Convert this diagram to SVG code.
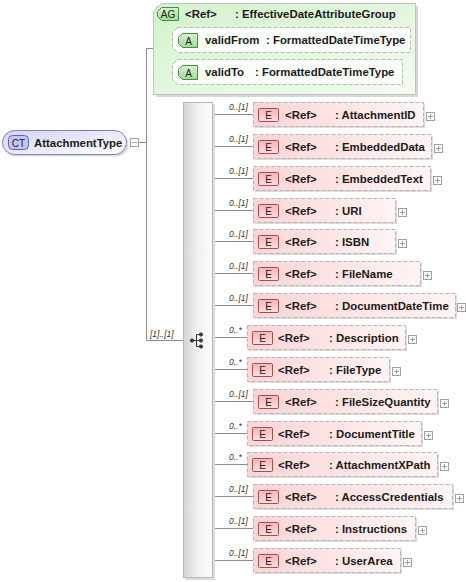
<svg xmlns="http://www.w3.org/2000/svg" width="466" height="582" viewBox="0 0 466 582">
<defs>
<linearGradient id="gPink" x1="0" y1="0" x2="1" y2="0"><stop offset="0" stop-color="#fcd4d4"/><stop offset="1" stop-color="#fff4f4"/></linearGradient>
<linearGradient id="gE" x1="0" y1="0" x2="0" y2="1"><stop offset="0" stop-color="#f6b4b4"/><stop offset="1" stop-color="#fbe0e0"/></linearGradient>
<linearGradient id="gGreen" x1="0" y1="0" x2="1" y2="1"><stop offset="0" stop-color="#d2f2cc"/><stop offset="1" stop-color="#f2fcf0"/></linearGradient>
<linearGradient id="gA" x1="0" y1="0" x2="0" y2="1"><stop offset="0" stop-color="#d8f4d0"/><stop offset="1" stop-color="#9edc90"/></linearGradient>
<linearGradient id="gCT" x1="0" y1="0" x2="1" y2="1"><stop offset="0" stop-color="#d2d2f4"/><stop offset="1" stop-color="#ffffff"/></linearGradient>
<linearGradient id="gSeq" x1="0" y1="0" x2="1" y2="0"><stop offset="0" stop-color="#d4d4d4"/><stop offset="0.5" stop-color="#f2f2f2"/><stop offset="1" stop-color="#fafafa"/></linearGradient>
</defs>
<style>
text{font-family:"Liberation Sans",Arial,sans-serif;fill:#1a1a1a}
.t{font-size:11.4px;font-weight:bold}
.m{font-size:8.5px;font-style:italic;fill:#333}
.ln{stroke:#8c8c8c;stroke-width:1;fill:none}
.box{fill:url(#gPink);stroke:#b4b4b4;stroke-dasharray:4,2}
.sh{fill:#dcdcdc}
.eb{fill:url(#gE);stroke:#a05050}
.pl{fill:#fff;stroke:#a0a0a0}
.pls{stroke:#a0a0a0}
.bt{font-size:10px;font-weight:normal;fill:#222}
</style>

<g id="connectors">
<polyline class="ln" points="138.5,142.5 146.5,142.5"/>
<line class="ln" x1="146.5" y1="48.5" x2="146.5" y2="340.5"/>
<polyline class="ln" points="146.5,48.5 163.5,48.5"/>
<line class="ln" x1="163.5" y1="40.5" x2="163.5" y2="72.5"/>
<polyline class="ln" points="163.5,40.5 172,40.5"/>
<polyline class="ln" points="163.5,72.5 172,72.5"/>
<line class="ln" x1="146.5" y1="340.5" x2="183" y2="340.5"/>
<text class="m" x="150" y="337">[1]..[1]</text>
<g id="rowlines">
<line class="ln" x1="213" y1="114.5" x2="253" y2="114.5"/>
<line class="ln" x1="213" y1="146.5" x2="253" y2="146.5"/>
<line class="ln" x1="213" y1="178.5" x2="253" y2="178.5"/>
<line class="ln" x1="213" y1="210.5" x2="253" y2="210.5"/>
<line class="ln" x1="213" y1="241.5" x2="253" y2="241.5"/>
<line class="ln" x1="213" y1="273.5" x2="253" y2="273.5"/>
<line class="ln" x1="213" y1="305.5" x2="253" y2="305.5"/>
<line class="ln" x1="213" y1="337.5" x2="247" y2="337.5"/>
<line class="ln" x1="213" y1="369.5" x2="247" y2="369.5"/>
<line class="ln" x1="213" y1="401.5" x2="253" y2="401.5"/>
<line class="ln" x1="213" y1="433.5" x2="247" y2="433.5"/>
<line class="ln" x1="213" y1="464.5" x2="247" y2="464.5"/>
<line class="ln" x1="213" y1="496.5" x2="253" y2="496.5"/>
<line class="ln" x1="213" y1="528.5" x2="253" y2="528.5"/>
<line class="ln" x1="213" y1="560.5" x2="253" y2="560.5"/>
</g>
<g id="mult">
<text class="m" x="229" y="110">0..[1]</text>
<text class="m" x="229" y="142">0..[1]</text>
<text class="m" x="229" y="174">0..[1]</text>
<text class="m" x="229" y="206">0..[1]</text>
<text class="m" x="229" y="237">0..[1]</text>
<text class="m" x="229" y="269">0..[1]</text>
<text class="m" x="229" y="301">0..[1]</text>
<text class="m" x="229" y="333">0..*</text>
<text class="m" x="229" y="365">0..*</text>
<text class="m" x="229" y="397">0..[1]</text>
<text class="m" x="229" y="429">0..*</text>
<text class="m" x="229" y="460">0..*</text>
<text class="m" x="229" y="492">0..[1]</text>
<text class="m" x="229" y="524">0..[1]</text>
<text class="m" x="229" y="556">0..[1]</text>
</g>
</g>

<g id="ct">
<rect x="4.5" y="132.5" width="124" height="24" rx="12" class="sh"/>
<rect x="2.5" y="130.5" width="124" height="24" rx="12" fill="url(#gCT)" stroke="#8080c0"/>
<rect x="8.5" y="135.5" width="20" height="14" rx="4" fill="#c4c4f0" stroke="#6464a8"/>
<text class="bt" x="18.5" y="146.5" text-anchor="middle">CT</text>
<text class="t" x="34" y="147">AttachmentType</text>
<rect x="130.5" y="138.5" width="8" height="8" class="pl"/>
<line x1="132" y1="142.5" x2="137" y2="142.5" class="pls"/>
</g>

<g id="ag">
<path d="M156,6 H418 V97 H156 Z" fill="#d8d8d8"/>
<path d="M161.5,3.5 H415.5 V94.5 H153.5 V11.5 Z" fill="url(#gGreen)" stroke="#c0c0c0"/>
<path d="M161.5,7.5 H178.5 V20.5 H161.5 L157.5,16.5 V11.5 Z" fill="url(#gA)" stroke="#508850"/>
<text class="bt" x="168" y="18" text-anchor="middle">AG</text>
<text class="t" x="185" y="18">&lt;Ref&gt;</text>
<text class="t" x="235" y="18">: EffectiveDateAttributeGroup</text>
<g id="validFrom">
<path d="M177.5,27.5 H410.5 V52.5 H177.5 L172.5,47.5 V32.5 Z" fill="#fafff9" stroke="#b8b8b8" stroke-dasharray="4,2"/>
<path d="M182.5,33.5 H197.5 V47.5 H182.5 L178.5,43.5 V37.5 Z" fill="url(#gA)" stroke="#508850"/>
<text class="bt" x="188.5" y="45" text-anchor="middle">A</text>
<text class="t" x="205" y="44">validFrom</text>
<text class="t" x="266" y="44">: FormattedDateTimeType</text>
</g>
<g id="validTo">
<path d="M177.5,59.5 H402.5 V84.5 H177.5 L172.5,79.5 V64.5 Z" fill="#fafff9" stroke="#b8b8b8" stroke-dasharray="4,2"/>
<path d="M182.5,65.5 H197.5 V79.5 H182.5 L178.5,75.5 V69.5 Z" fill="url(#gA)" stroke="#508850"/>
<text class="bt" x="188.5" y="77" text-anchor="middle">A</text>
<text class="t" x="205" y="76">validTo</text>
<text class="t" x="255" y="76">: FormattedDateTimeType</text>
</g>
</g>

<g id="sequence">
<rect x="185" y="104" width="30" height="476" class="sh"/>
<rect x="183.5" y="102.5" width="29" height="475" fill="url(#gSeq)" stroke="#b8b8b8"/>
<g fill="#333" stroke="#333">
<circle cx="192" cy="340.5" r="1.6"/>
<line x1="192" y1="340.5" x2="200" y2="340.5"/>
<line x1="196.5" y1="334.5" x2="196.5" y2="346.5"/>
<line x1="196.5" y1="334.5" x2="200" y2="334.5"/>
<line x1="196.5" y1="346.5" x2="200" y2="346.5"/>
<circle cx="201" cy="334.5" r="1.6"/>
<circle cx="201" cy="340.5" r="1.6"/>
<circle cx="201" cy="346.5" r="1.6"/>
</g>
</g>

<g id="e-AttachmentID">
<rect x="255" y="104" width="170" height="24" class="sh"/>
<rect x="253.5" y="102.5" width="170" height="24" class="box"/>
<rect x="258.5" y="108.5" width="20" height="13" rx="1" class="eb"/>
<text class="bt" x="268.5" y="119" text-anchor="middle">E</text>
<text class="t" x="285" y="119">&lt;Ref&gt;</text>
<text class="t" x="335" y="119">: AttachmentID</text>
<rect x="426.5" y="112.5" width="8" height="8" class="pl"/>
<path d="M428,116.5 H433 M430.5,114 V119" class="pls"/>
</g>
<g id="e-EmbeddedData">
<rect x="255" y="136" width="178" height="24" class="sh"/>
<rect x="253.5" y="134.5" width="178" height="24" class="box"/>
<rect x="258.5" y="140.5" width="20" height="13" rx="1" class="eb"/>
<text class="bt" x="268.5" y="151" text-anchor="middle">E</text>
<text class="t" x="285" y="151">&lt;Ref&gt;</text>
<text class="t" x="335" y="151">: EmbeddedData</text>
<rect x="434.5" y="144.5" width="8" height="8" class="pl"/>
<path d="M436,148.5 H441 M438.5,146 V151" class="pls"/>
</g>
<g id="e-EmbeddedText">
<rect x="255" y="168" width="177" height="24" class="sh"/>
<rect x="253.5" y="166.5" width="177" height="24" class="box"/>
<rect x="258.5" y="172.5" width="20" height="13" rx="1" class="eb"/>
<text class="bt" x="268.5" y="183" text-anchor="middle">E</text>
<text class="t" x="285" y="183">&lt;Ref&gt;</text>
<text class="t" x="335" y="183">: EmbeddedText</text>
<rect x="433.5" y="176.5" width="8" height="8" class="pl"/>
<path d="M435,180.5 H440 M437.5,178 V183" class="pls"/>
</g>
<g id="e-URI">
<rect x="255" y="200" width="142" height="24" class="sh"/>
<rect x="253.5" y="198.5" width="142" height="24" class="box"/>
<rect x="258.5" y="204.5" width="20" height="13" rx="1" class="eb"/>
<text class="bt" x="268.5" y="215" text-anchor="middle">E</text>
<text class="t" x="285" y="215">&lt;Ref&gt;</text>
<text class="t" x="335" y="215">: URI</text>
<rect x="398.5" y="208.5" width="8" height="8" class="pl"/>
<path d="M400,212.5 H405 M402.5,210 V215" class="pls"/>
</g>
<g id="e-ISBN">
<rect x="255" y="231" width="142" height="24" class="sh"/>
<rect x="253.5" y="229.5" width="142" height="24" class="box"/>
<rect x="258.5" y="235.5" width="20" height="13" rx="1" class="eb"/>
<text class="bt" x="268.5" y="246" text-anchor="middle">E</text>
<text class="t" x="285" y="246">&lt;Ref&gt;</text>
<text class="t" x="335" y="246">: ISBN</text>
<rect x="398.5" y="239.5" width="8" height="8" class="pl"/>
<path d="M400,243.5 H405 M402.5,241 V246" class="pls"/>
</g>
<g id="e-FileName">
<rect x="255" y="263" width="167" height="24" class="sh"/>
<rect x="253.5" y="261.5" width="167" height="24" class="box"/>
<rect x="258.5" y="267.5" width="20" height="13" rx="1" class="eb"/>
<text class="bt" x="268.5" y="278" text-anchor="middle">E</text>
<text class="t" x="285" y="278">&lt;Ref&gt;</text>
<text class="t" x="335" y="278">: FileName</text>
<rect x="423.5" y="271.5" width="8" height="8" class="pl"/>
<path d="M425,275.5 H430 M427.5,273 V278" class="pls"/>
</g>
<g id="e-DocumentDateTime">
<rect x="255" y="295" width="202" height="24" class="sh"/>
<rect x="253.5" y="293.5" width="202" height="24" class="box"/>
<rect x="258.5" y="299.5" width="20" height="13" rx="1" class="eb"/>
<text class="bt" x="268.5" y="310" text-anchor="middle">E</text>
<text class="t" x="285" y="310">&lt;Ref&gt;</text>
<text class="t" x="335" y="310">: DocumentDateTime</text>
<rect x="457.5" y="303.5" width="8" height="8" class="pl"/>
<path d="M459,307.5 H464 M461.5,305 V310" class="pls"/>
</g>
<g id="e-Description">
<rect x="249" y="327" width="158" height="24" class="sh"/>
<rect x="247.5" y="325.5" width="158" height="24" class="box"/>
<rect x="252.5" y="331.5" width="20" height="13" rx="1" class="eb"/>
<text class="bt" x="262.5" y="342" text-anchor="middle">E</text>
<text class="t" x="278" y="342">&lt;Ref&gt;</text>
<text class="t" x="329" y="342">: Description</text>
<rect x="408.5" y="335.5" width="8" height="8" class="pl"/>
<path d="M410,339.5 H415 M412.5,337 V342" class="pls"/>
</g>
<g id="e-FileType">
<rect x="249" y="359" width="142" height="24" class="sh"/>
<rect x="247.5" y="357.5" width="142" height="24" class="box"/>
<rect x="252.5" y="363.5" width="20" height="13" rx="1" class="eb"/>
<text class="bt" x="262.5" y="374" text-anchor="middle">E</text>
<text class="t" x="278" y="374">&lt;Ref&gt;</text>
<text class="t" x="329" y="374">: FileType</text>
<rect x="392.5" y="367.5" width="8" height="8" class="pl"/>
<path d="M394,371.5 H399 M396.5,369 V374" class="pls"/>
</g>
<g id="e-FileSizeQuantity">
<rect x="255" y="391" width="184" height="24" class="sh"/>
<rect x="253.5" y="389.5" width="184" height="24" class="box"/>
<rect x="258.5" y="395.5" width="20" height="13" rx="1" class="eb"/>
<text class="bt" x="268.5" y="406" text-anchor="middle">E</text>
<text class="t" x="285" y="406">&lt;Ref&gt;</text>
<text class="t" x="335" y="406">: FileSizeQuantity</text>
<rect x="440.5" y="399.5" width="8" height="8" class="pl"/>
<path d="M442,403.5 H447 M444.5,401 V406" class="pls"/>
</g>
<g id="e-DocumentTitle">
<rect x="249" y="423" width="174" height="24" class="sh"/>
<rect x="247.5" y="421.5" width="174" height="24" class="box"/>
<rect x="252.5" y="427.5" width="20" height="13" rx="1" class="eb"/>
<text class="bt" x="262.5" y="438" text-anchor="middle">E</text>
<text class="t" x="278" y="438">&lt;Ref&gt;</text>
<text class="t" x="329" y="438">: DocumentTitle</text>
<rect x="424.5" y="431.5" width="8" height="8" class="pl"/>
<path d="M426,435.5 H431 M428.5,433 V438" class="pls"/>
</g>
<g id="e-AttachmentXPath">
<rect x="249" y="454" width="190" height="24" class="sh"/>
<rect x="247.5" y="452.5" width="190" height="24" class="box"/>
<rect x="252.5" y="458.5" width="20" height="13" rx="1" class="eb"/>
<text class="bt" x="262.5" y="469" text-anchor="middle">E</text>
<text class="t" x="278" y="469">&lt;Ref&gt;</text>
<text class="t" x="329" y="469">: AttachmentXPath</text>
<rect x="440.5" y="462.5" width="8" height="8" class="pl"/>
<path d="M442,466.5 H447 M444.5,464 V469" class="pls"/>
</g>
<g id="e-AccessCredentials">
<rect x="255" y="486" width="199" height="24" class="sh"/>
<rect x="253.5" y="484.5" width="199" height="24" class="box"/>
<rect x="258.5" y="490.5" width="20" height="13" rx="1" class="eb"/>
<text class="bt" x="268.5" y="501" text-anchor="middle">E</text>
<text class="t" x="285" y="501">&lt;Ref&gt;</text>
<text class="t" x="335" y="501">: AccessCredentials</text>
<rect x="455.5" y="494.5" width="8" height="8" class="pl"/>
<path d="M457,498.5 H462 M459.5,496 V501" class="pls"/>
</g>
<g id="e-Instructions">
<rect x="255" y="518" width="162" height="24" class="sh"/>
<rect x="253.5" y="516.5" width="162" height="24" class="box"/>
<rect x="258.5" y="522.5" width="20" height="13" rx="1" class="eb"/>
<text class="bt" x="268.5" y="533" text-anchor="middle">E</text>
<text class="t" x="285" y="533">&lt;Ref&gt;</text>
<text class="t" x="335" y="533">: Instructions</text>
<rect x="418.5" y="526.5" width="8" height="8" class="pl"/>
<path d="M420,530.5 H425 M422.5,528 V533" class="pls"/>
</g>
<g id="e-UserArea">
<rect x="255" y="550" width="147" height="24" class="sh"/>
<rect x="253.5" y="548.5" width="147" height="24" class="box"/>
<rect x="258.5" y="554.5" width="20" height="13" rx="1" class="eb"/>
<text class="bt" x="268.5" y="565" text-anchor="middle">E</text>
<text class="t" x="285" y="565">&lt;Ref&gt;</text>
<text class="t" x="335" y="565">: UserArea</text>
<rect x="403.5" y="558.5" width="8" height="8" class="pl"/>
<path d="M405,562.5 H410 M407.5,560 V565" class="pls"/>
</g>
</svg>
